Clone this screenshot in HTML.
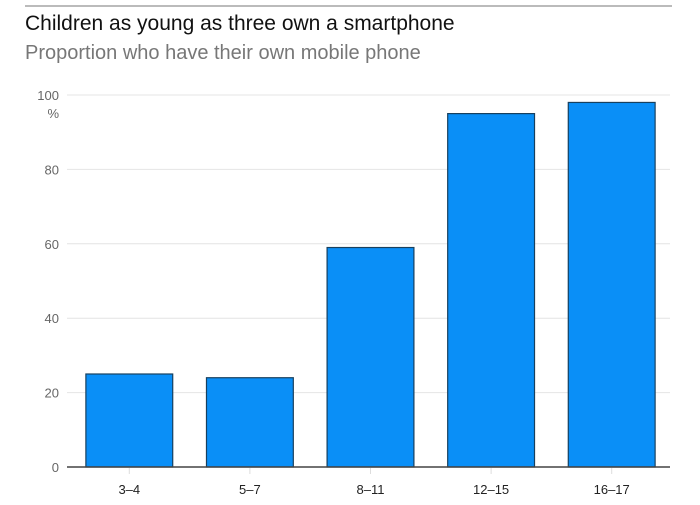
<!DOCTYPE html>
<html><head><meta charset="utf-8"><style>
body{margin:0;background:#fff;width:700px;height:500px;overflow:hidden;font-family:"Liberation Sans",sans-serif}
</style></head><body>
<svg width="700" height="500">
<line x1="25" y1="6" x2="672" y2="6" stroke="#777" stroke-width="1"/>
<text x="25" y="30" font-size="21" fill="#111">Children as young as three own a smartphone</text>
<text x="25" y="59" font-size="20" fill="#777">Proportion who have their own mobile phone</text>
<g id="grid"></g><g id="bars"></g><g id="xax"></g>
<text x="59" y="118" font-size="13" fill="#666" text-anchor="end">%</text>
</svg>
<script>
const categories=["3–4","5–7","8–11","12–15","16–17"];
const values=[25,24,59,95,98];
const yTicks=[0,20,40,60,80,100];
const NS="http://www.w3.org/2000/svg";
const x0=67,x1=670,y0=467,yTop=95,yMax=100;
const y=v=>y0-(y0-yTop)*v/yMax;
const band=(x1-x0)/categories.length, bw=band*0.72;
const cx=i=>x0+band*(i+0.5)+2;
function mk(t,a,p){const e=document.createElementNS(NS,t);for(const k in a)e.setAttribute(k,a[k]);p.appendChild(e);return e;}
const g=document.getElementById('grid');
yTicks.forEach(t=>{
 if(t>0){const l=mk('line',{x1:x0,x2:x1,y1:y(t),y2:y(t),stroke:'#e4e4e4'},g);
 
 }
 const tx=mk('text',{x:59,y:y(t)+5,'font-size':13,fill:'#666','text-anchor':'end'},g);
 tx.textContent=t;
 
 
});
const b=document.getElementById('bars');
values.forEach((v,i)=>{
 const r=mk('rect',{x:cx(i)-bw/2,y:y(v),width:bw,height:y0-y(v),fill:'#0a8ff7',stroke:'#17405f','stroke-width':1.2},b);
 
 
});
const xa=document.getElementById('xax');
const ax=mk('line',{x1:x0,x2:x1,y1:y0,y2:y0,stroke:'#444','stroke-width':1.5},xa);


categories.forEach((c,i)=>{
 const tk=mk('line',{x1:cx(i),x2:cx(i),y1:y0+1,y2:y0+7,stroke:'#ddd'},xa);
 
 
 const t=mk('text',{x:cx(i),y:y0+27,'font-size':13,fill:'#222','text-anchor':'middle'},xa);
 t.textContent=c;
 
 
});
</script>
</body></html>
